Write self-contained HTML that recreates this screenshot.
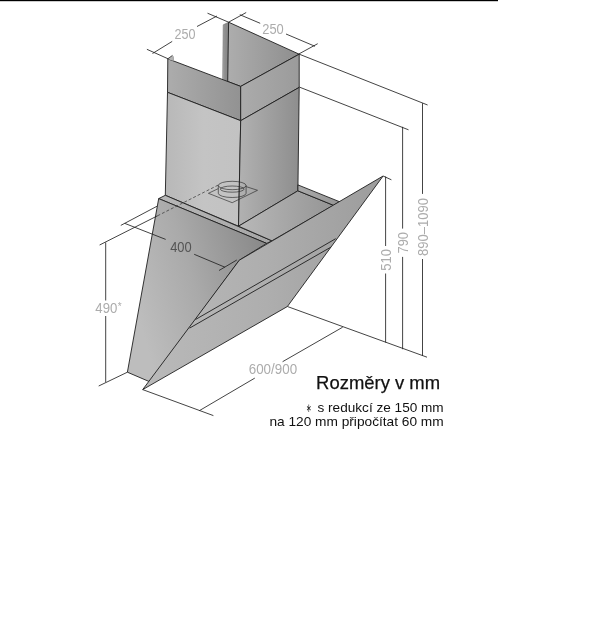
<!DOCTYPE html>
<html><head><meta charset="utf-8">
<style>
html,body{margin:0;padding:0;background:#fff;}
body{width:605px;height:627px;overflow:hidden;}
svg{display:block;}
text{font-family:"Liberation Sans",sans-serif;}
</style></head>
<body>
<svg width="605" height="627" viewBox="0 0 605 627">
<defs>
  <linearGradient id="gStrip" x1="0" y1="0" x2="1" y2="0">
    <stop offset="0" stop-color="#acacac"/><stop offset="0.35" stop-color="#8f8f8f"/><stop offset="1" stop-color="#858585"/>
  </linearGradient>
  <linearGradient id="gInner" gradientUnits="userSpaceOnUse" x1="228" y1="0" x2="299" y2="0">
    <stop offset="0" stop-color="#adadad"/><stop offset="1" stop-color="#8e8e8e"/>
  </linearGradient>
  <linearGradient id="gLU" gradientUnits="userSpaceOnUse" x1="168" y1="0" x2="241" y2="0">
    <stop offset="0" stop-color="#acacac"/><stop offset="1" stop-color="#929292"/>
  </linearGradient>
  <linearGradient id="gRU" gradientUnits="userSpaceOnUse" x1="241" y1="0" x2="299" y2="0">
    <stop offset="0" stop-color="#ababab"/><stop offset="1" stop-color="#9b9b9b"/>
  </linearGradient>
  <linearGradient id="gLL" gradientUnits="userSpaceOnUse" x1="166" y1="0" x2="241" y2="0">
    <stop offset="0" stop-color="#b8b8b8"/><stop offset="0.5" stop-color="#c4c4c4"/><stop offset="1" stop-color="#c2c2c2"/>
  </linearGradient>
  <linearGradient id="gRL" gradientUnits="userSpaceOnUse" x1="241" y1="0" x2="299" y2="0">
    <stop offset="0" stop-color="#b0b0b0"/><stop offset="1" stop-color="#8e8e8e"/>
  </linearGradient>
  <linearGradient id="gLedge" gradientUnits="userSpaceOnUse" x1="159" y1="0" x2="272" y2="0">
    <stop offset="0" stop-color="#b7b7b7"/><stop offset="1" stop-color="#a6a6a6"/>
  </linearGradient>
  <linearGradient id="gTop" gradientUnits="userSpaceOnUse" x1="239" y1="0" x2="334" y2="0">
    <stop offset="0" stop-color="#b8b8b8"/><stop offset="1" stop-color="#959595"/>
  </linearGradient>
  <linearGradient id="gLip" gradientUnits="userSpaceOnUse" x1="298" y1="0" x2="340" y2="0">
    <stop offset="0" stop-color="#aaaaaa"/><stop offset="1" stop-color="#959595"/>
  </linearGradient>
  <linearGradient id="gLeft" gradientUnits="userSpaceOnUse" x1="130" y1="290" x2="264" y2="250">
    <stop offset="0" stop-color="#bdbdbd"/><stop offset="0.45" stop-color="#aaaaaa"/><stop offset="1" stop-color="#8a8a8a"/>
  </linearGradient>
  <linearGradient id="gGlass" gradientUnits="userSpaceOnUse" x1="150" y1="0" x2="383" y2="0">
    <stop offset="0" stop-color="#b9b9b9"/><stop offset="0.5" stop-color="#aeaeae"/><stop offset="1" stop-color="#9c9c9c"/>
  </linearGradient>
</defs>

<rect x="0" y="0" width="498" height="1.2" fill="#000"/>

<g stroke="#1e1e1e" stroke-width="0.9" stroke-linejoin="round">
  <!-- chimney -->
  <polygon points="223.2,24.8 228.6,22.2 227.7,81.4 222.6,81.4" fill="url(#gStrip)" stroke="#666" stroke-width="0.5"/>
  <polygon points="228.6,22.2 299.2,54.2 240.7,86.4 227.7,81.5" fill="url(#gInner)"/>
  <polygon points="167.8,58.8 240.7,86.4 240.7,120.7 167.5,92.3" fill="url(#gLU)"/>
  <polygon points="240.7,86.4 299.2,54.2 299.2,87.4 240.7,120.7" fill="url(#gRU)"/>
  <polygon points="167.5,92.3 240.7,120.7 238.5,226.2 165.3,195.3" fill="url(#gLL)"/>
  <polygon points="240.7,120.7 299.2,87.4 297.9,190.8 238.5,226.2" fill="url(#gRL)"/>
  <polygon points="168,58.9 172.4,55.5 173.5,56.6 173.7,61" fill="#b4b4b4" stroke="none"/>
  <line x1="167.8" y1="58.8" x2="172.5" y2="55.4" stroke-width="0.8"/>
  <line x1="173.3" y1="56.4" x2="173.5" y2="60.8" stroke="#888" stroke-width="0.6"/>
  <!-- body -->
  <polygon points="158.7,198.6 165.3,195.3 271.9,240.8 266.6,243.4" fill="url(#gLedge)"/>
  <polygon points="238.5,226.2 297.9,190.8 333.5,205.3 271.9,240.8" fill="url(#gTop)"/>
  <polygon points="297.9,184.9 339.5,201.7 333.5,205.3 297.9,190.8" fill="url(#gLip)"/>
  <polygon points="158.7,198.6 266.6,243.4 239.3,260.2 149.8,381.8 127.4,372.2" fill="url(#gLeft)"/>
  <polygon points="239.3,260.2 383.1,176 287.4,306.5 142.7,389.6" fill="url(#gGlass)"/>
  <line x1="195.5" y1="319.5" x2="335.7" y2="238.7"/>
  <line x1="189.6" y1="328.1" x2="330.8" y2="247.2"/>
</g>

<!-- duct -->
<g stroke="#2a2a2a" stroke-width="0.65" fill="none">
  <polyline points="218.3,188.6 208.4,193.3 232.2,202.7 257.5,190.3 246.1,186.6"/>
  <ellipse cx="232.2" cy="185.5" rx="13.9" ry="4.2"/>
  <ellipse cx="232.2" cy="189.1" rx="11.9" ry="3.1"/>
  <path d="M218.3,185.5 V193.3 A13.9,4.2 0 0 0 246.1,193.3 V185.5"/>
  <line x1="157.5" y1="215.8" x2="218.3" y2="185" stroke-dasharray="3,2"/>
</g>

<!-- dimension lines -->
<g stroke="#222" stroke-width="0.85" fill="none">
  <line x1="146.9" y1="49.3" x2="168.1" y2="58.8"/>
  <line x1="152.5" y1="53.5" x2="172.2" y2="41.4"/>
  <line x1="197" y1="26.5" x2="217" y2="16"/>
  <line x1="207.5" y1="13.2" x2="228.6" y2="22.2"/>

  <line x1="228.6" y1="22.2" x2="246.2" y2="12.5"/>
  <line x1="239.8" y1="14.7" x2="260.2" y2="23.3"/>
  <line x1="286" y1="34" x2="315" y2="46.3"/>
  <line x1="298.8" y1="54" x2="317.7" y2="43.7"/>

  <line x1="298.8" y1="54" x2="427.6" y2="105"/>
  <line x1="299.4" y1="87.1" x2="408.5" y2="129.8"/>
  <line x1="383.1" y1="176" x2="391.4" y2="179.8"/>
  <line x1="422.5" y1="103.2" x2="422.5" y2="193.9"/>
  <line x1="422.5" y1="259" x2="422.5" y2="355.9"/>
  <line x1="402.6" y1="126.8" x2="402.6" y2="228.6"/>
  <line x1="402.6" y1="256.9" x2="402.6" y2="349.2"/>
  <line x1="385.6" y1="176.5" x2="385.6" y2="246"/>
  <line x1="385.6" y1="273.5" x2="385.6" y2="342.5"/>
  <line x1="287.4" y1="306.5" x2="427" y2="357.2"/>

  <line x1="120.8" y1="225.4" x2="157.1" y2="206.2"/>
  <line x1="124.8" y1="223.4" x2="165.7" y2="239.4"/>
  <line x1="194.2" y1="254.3" x2="224.9" y2="267.2"/>
  <line x1="219" y1="270.5" x2="236.8" y2="260"/>

  <line x1="99.6" y1="245" x2="157.5" y2="215.8"/>
  <line x1="105.7" y1="242.4" x2="105.7" y2="300.5"/>
  <line x1="105.7" y1="316" x2="105.7" y2="382.2"/>
  <line x1="98.7" y1="386" x2="127.4" y2="372.2"/>

  <line x1="142.7" y1="389.6" x2="213.4" y2="415.6"/>
  <line x1="199.3" y1="410.7" x2="254.8" y2="378.1"/>
  <line x1="282.6" y1="361.7" x2="342.7" y2="327.2"/>
</g>

<!-- dimension texts -->
<g fill="#acacac" font-size="14.6" opacity="0.999">
  <text x="174.4" y="39.4" textLength="21" lengthAdjust="spacingAndGlyphs">250</text>
  <text x="262.3" y="34" textLength="21.5" lengthAdjust="spacingAndGlyphs">250</text>
  <text x="170.2" y="251.8" textLength="21.5" lengthAdjust="spacingAndGlyphs" fill="#555">400</text>
  <text x="95.3" y="313.3" textLength="22" lengthAdjust="spacingAndGlyphs">490</text>
  <text x="117.8" y="309.5" font-size="10">*</text>
  <text x="248.7" y="374.4" textLength="48.4" lengthAdjust="spacingAndGlyphs">600/900</text>
  <text transform="translate(390.8,270.7) rotate(-90)" textLength="21.7" lengthAdjust="spacingAndGlyphs">510</text>
  <text transform="translate(407.8,253.4) rotate(-90)" textLength="21.4" lengthAdjust="spacingAndGlyphs">790</text>
  <text transform="translate(427.5,255.9) rotate(-90)" textLength="57.9" lengthAdjust="spacingAndGlyphs">890–1090</text>
</g>

<!-- caption -->
<g fill="#111" opacity="0.999">
  <text x="316.1" y="389.4" font-size="19" stroke="#111" stroke-width="0.25" textLength="124" lengthAdjust="spacingAndGlyphs">Rozměry v mm</text>
  <text x="306.4" y="412" font-size="11.5" textLength="5.6" lengthAdjust="spacingAndGlyphs">∗</text>
  <text x="317.5" y="412.3" font-size="13.3" textLength="126.2" lengthAdjust="spacingAndGlyphs">s redukcí ze 150 mm</text>
  <text x="269.4" y="426.4" font-size="13.3" textLength="174.3" lengthAdjust="spacingAndGlyphs">na 120 mm připočítat 60 mm</text>
</g>
</svg>
</body></html>
